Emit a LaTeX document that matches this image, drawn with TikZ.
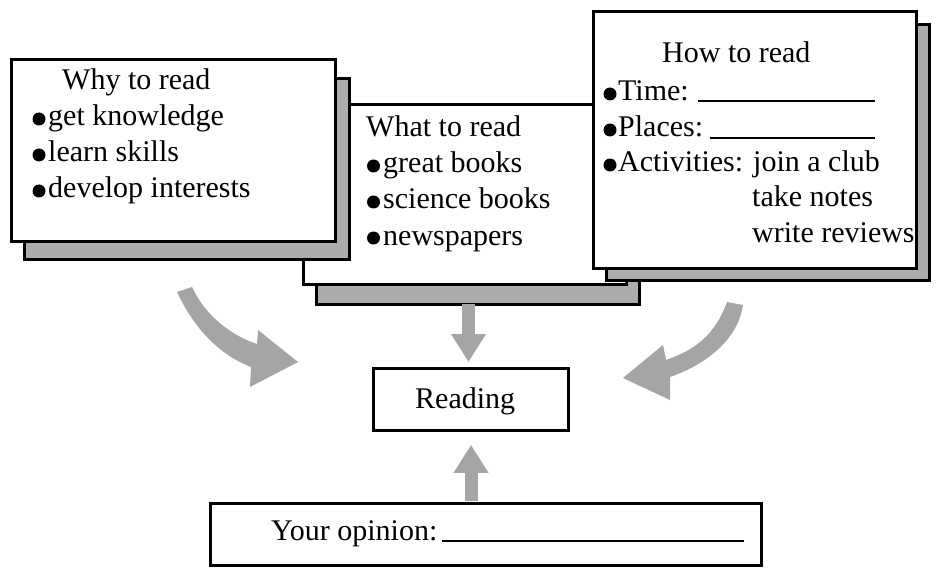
\documentclass[tikz,border=0pt]{standalone}
\usepackage{fontspec}
\setmainfont{Liberation Serif}
\usetikzlibrary{arrows.meta}
\definecolor{shadowgray}{RGB}{172,172,172}
\definecolor{arrowgray}{RGB}{165,165,165}
\begin{document}
\begin{tikzpicture}[x=1pt,y=-1pt,
  frontbox/.style={draw=black, fill=white, line width=2.8pt, anchor=north west, inner sep=0pt},
  shadowbox/.style={draw=black, fill=shadowgray, line width=2.8pt, anchor=north west, inner sep=0pt},
  txt/.style={anchor=base west, inner sep=0pt, font=\fontsize{30}{36}\selectfont},
  blank/.style={line width=2pt},
  bigarrow/.style={draw=arrowgray, line width=13pt, -{Triangle[width=33pt,length=28pt]}}]
\useasboundingbox (0,0) rectangle (946,575);
\fill[white] (0,0) rectangle (946,575);

% ---- free ends of the straight arrows
\coordinate (dtop) at (468.5,304);
\coordinate (ubot) at (471,501);

% ---- middle box
\node[shadowbox, minimum width=323pt, minimum height=180pt] (midshadow) at (315,123) {};
\node[frontbox, minimum width=323pt, minimum height=180pt] (midbox) at (302,103) {};
% ---- left box
\node[shadowbox, minimum width=325pt, minimum height=181pt] (leftshadow) at (23,77) {};
\node[frontbox, minimum width=324pt, minimum height=182pt] (leftbox) at (10,58) {};
% ---- right box
\node[shadowbox, minimum width=323pt, minimum height=256pt] (rightshadow) at (605,23) {};
\node[frontbox, minimum width=323pt, minimum height=257pt] (rightbox) at (592,10) {};

% ---- Reading and opinion boxes
\node[frontbox, minimum width=195pt, minimum height=62pt] (reading) at (372,367) {};
\draw[bigarrow, shorten >=5pt] (dtop) -- (reading.north -| dtop);
\draw[bigarrow, shorten >=13pt] (ubot) -- (reading.south -| ubot);
\node[frontbox, minimum width=551pt, minimum height=62pt] (opinionbox) at (209,502) {};

% ---- curved arrows
\fill[arrowgray] (177,292) .. controls (195,330) and (220,355) .. (251,367) -- (250,387) -- (298,362) -- (258,330) -- (257,344) .. controls (230,335) and (205,315) .. (192,287) -- cycle;
\fill[arrowgray] (727,302) .. controls (715,335) and (695,350) .. (666,360) -- (663,345) -- (623,378) -- (670,400) -- (670,377) .. controls (705,365) and (738,340) .. (743,305) -- cycle;

% ---- left texts
\node[txt] (why) at (62,90) {Why to read};
\fill (39,119) circle (6.5pt); \node[txt] (why1) at (48,126) {get knowledge};
\fill (39,155) circle (6.5pt); \node[txt] (why2) at (48,162) {learn skills};
\fill (39,191) circle (6.5pt); \node[txt] (why3) at (48,198) {develop interests};

% ---- middle texts
\node[txt] (what) at (366,137) {What to read};
\fill (373.5,166) circle (6.5pt); \node[txt] (what1) at (383,173) {great books};
\fill (373.5,202) circle (6.5pt); \node[txt] (what2) at (383,209) {science books};
\fill (373.5,238) circle (6.5pt); \node[txt] (what3) at (383,245) {newspapers};

% ---- right texts
\node[txt] (how) at (662,63) {How to read};
\fill (610,94) circle (6.5pt); \node[txt] (how1) at (618,101) {Time:};
\draw[blank] (698,101) -- (875,101);
\fill (610,130) circle (6.5pt); \node[txt] (how2) at (618,137) {Places:};
\draw[blank] (710,138) -- (875,138);
\fill (610,165) circle (6.5pt); \node[txt] (how3) at (618,172) {Activities: join a club};
\node[txt] (how4) at (752,207) {take notes};
\node[txt] (how5) at (752,243) {write reviews};

% ---- reading / opinion texts
\node[txt] (readtxt) at (415,408) {Reading};
\node[txt] (opintxt) at (271,540) {Your opinion:};
\draw[blank] (442,541) -- (744,541);
\end{tikzpicture}
\end{document}
